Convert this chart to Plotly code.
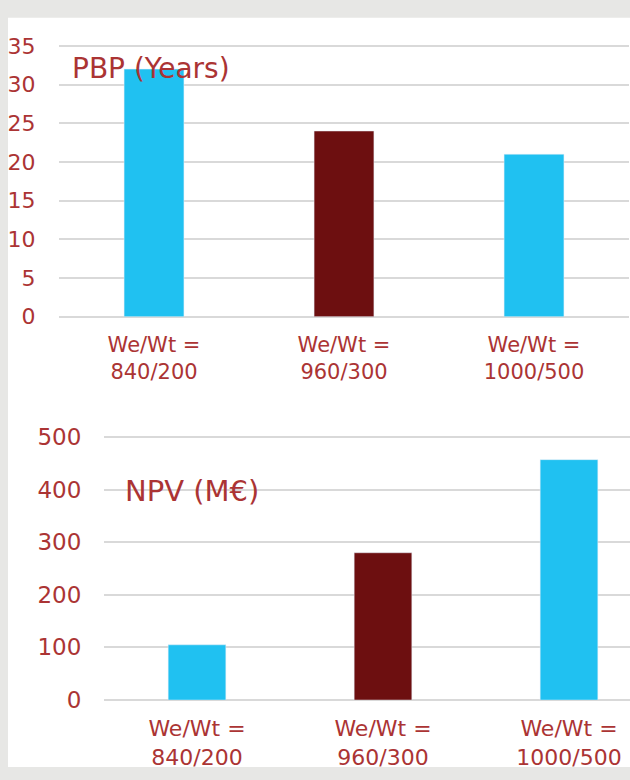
import plotly.graph_objects as go

# ---- data ----
categories = ["We/Wt =<br>840/200", "We/Wt =<br>960/300", "We/Wt =<br>1000/500"]
pbp_years = [32, 24, 21]
npv_meur = [105, 280, 457]
pbp_ticks = [0, 5, 10, 15, 20, 25, 30, 35]
npv_ticks = [0, 100, 200, 300, 400, 500]

# ---- style ----
W, H = 630, 780
cyan = "#20c1f1"
maroon = "#6d0f10"
bar_colors = [cyan, maroon, cyan]
red_text = "#ab3434"
grid = "#d9d9d9"
font_family = "DejaVu Sans, Liberation Sans, Arial, sans-serif"

def px_x(p):
    return p / W

def px_y(p):
    return 1 - p / H

fig = go.Figure()

fig.add_trace(go.Bar(x=categories, y=pbp_years, marker_color=bar_colors,
                     width=0.315, xaxis="x", yaxis="y", showlegend=False))
fig.add_trace(go.Bar(x=categories, y=npv_meur, marker_color=bar_colors,
                     width=0.31, xaxis="x2", yaxis="y2", showlegend=False))

xfont_top = dict(family=font_family, size=21, color=red_text)
xfont_bot = dict(family=font_family, size=22, color=red_text)
yfont_top = dict(family=font_family, size=22, color=red_text)
yfont_bot = dict(family=font_family, size=23, color=red_text)

top_max = 35.4
top_px_top = 316 - top_max * (279 / 35)
bot_max = 505
bot_px_top = 711 - bot_max * (271 / 500)

fig.update_layout(
    width=W, height=H,
    margin=dict(l=0, r=0, t=0, b=0),
    paper_bgcolor="#e7e7e5",
    plot_bgcolor="rgba(0,0,0,0)",
    font=dict(family=font_family, color=red_text),
    xaxis=dict(domain=[px_x(59), px_x(629)], anchor="y", type="category",
               range=[-0.5, 2.5], showgrid=False, zeroline=False, showline=False,
               tickfont=xfont_top, ticks="outside", ticklen=9, tickcolor="rgba(0,0,0,0)"),
    yaxis=dict(domain=[px_y(316), px_y(top_px_top)], anchor="x", range=[0, top_max],
               tickvals=pbp_ticks, showgrid=True, gridcolor=grid, gridwidth=1.5,
               zeroline=True, zerolinecolor=grid, zerolinewidth=1.5, showline=False,
               tickfont=yfont_top, ticks="outside", ticklen=18, tickcolor="rgba(0,0,0,0)"),
    xaxis2=dict(domain=[px_x(104), 1.0], anchor="y2", type="category",
                range=[-0.5, -0.5 + (630 - 104) / 186], showgrid=False, zeroline=False,
                showline=False, tickfont=xfont_bot, ticks="outside", ticklen=9,
                tickcolor="rgba(0,0,0,0)"),
    yaxis2=dict(domain=[px_y(711), px_y(bot_px_top)], anchor="x2", range=[0, bot_max],
                tickvals=npv_ticks, showgrid=True, gridcolor=grid, gridwidth=1.5,
                zeroline=True, zerolinecolor=grid, zerolinewidth=1.5, showline=False,
                tickfont=yfont_bot, ticks="outside", ticklen=17, tickcolor="rgba(0,0,0,0)"),
    shapes=[dict(type="rect", xref="paper", yref="paper", layer="below",
                 x0=px_x(8), x1=1.0, y0=0, y1=px_y(8),
                 fillcolor="white", line=dict(width=0))],
    annotations=[
        dict(text="PBP (Years)", xref="paper", yref="paper", x=px_x(70), y=px_y(60),
             xanchor="left", yanchor="middle", showarrow=False,
             font=dict(family=font_family, size=28, color=red_text)),
        dict(text="NPV (M€)", xref="paper", yref="paper", x=px_x(123), y=px_y(496),
             xanchor="left", yanchor="middle", showarrow=False,
             font=dict(family=font_family, size=29, color=red_text)),
    ],
)

fig.write_html("out.html", post_script="document.body.style.margin='0';",
               config={"displayModeBar": False})
